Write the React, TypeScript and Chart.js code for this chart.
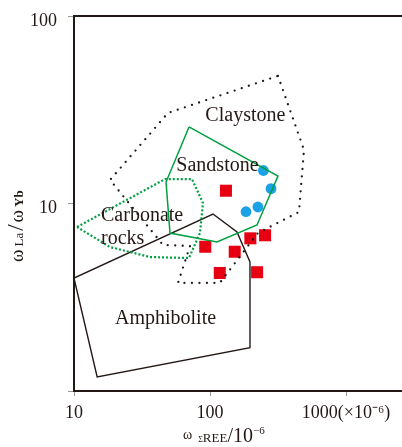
import { useEffect, useRef } from 'react';
import { Chart, registerables } from 'chart.js';

Chart.register(...registerables);

const FONT = "'Liberation Serif', 'Times New Roman', serif";
const INK = '#231815';

// axis ticks
const xTicks = [10, 100, 1000];
const yTicks = [1, 10, 100];
const xTickLabels = ['10', '100', '1000(×10⁻⁶)'];
const yTickLabels = ['', '10', '100'];

// field polygons (ΣREE, La/Yb)
const claystoneX = [316, 491, 451, 225, 118, 58.2, 71.3, 45.1, 18.4, 49.1];
const claystoneY = [47.9, 19.3, 9.01, 6.96, 3.77, 3.77, 5.93, 6.01, 13.35, 30.4];

const sandstoneX = [70.1, 316, 221.6, 112.6, 50.8, 47.5];
const sandstoneY = [25.6, 14.0, 7.68, 6.23, 6.96, 13.02];

const carbonateX = [10.52, 46.7, 73.7, 88.8, 84.4, 70.1, 36.2, 18.4];
const carbonateY = [7.49, 13.5, 13.5, 10.06, 6.96, 5.12, 5.18, 5.86];

const amphiboliteX = [10, 105.2, 157.9, 196.8, 196.8, 14.8];
const amphiboliteY = [4.0, 8.79, 7.05, 4.88, 1.7, 1.19];

// samples
const redX = [131, 92.3, 152, 198, 254, 118, 222];
const redY = [11.7, 5.88, 5.53, 6.52, 6.77, 4.26, 4.3];
const blueX = [247, 281, 225, 184];
const blueY = [15.0, 12.0, 9.58, 9.04];

// field labels
const labelTexts = ['Claystone', 'Sandstone', 'Carbonate', 'rocks', 'Amphibolite'];
const labelX = [182, 113.5, 15.8, 15.8, 47.1];
const labelY = [29.4, 15.85, 8.58, 6.47, 2.42];
const labelAlign = ['center', 'center', 'left', 'left', 'center'];

function closed(xs: number[], ys: number[]) {
  const pts = xs.map((x, i) => ({ x, y: ys[i] }));
  pts.push({ ...pts[0] });
  return pts;
}

function pts(xs: number[], ys: number[]) {
  return xs.map((x, i) => ({ x, y: ys[i] }));
}

type Run = { t: string; size: number; dy?: number; bold?: boolean; gap?: number };

function drawRuns(ctx: CanvasRenderingContext2D, runs: Run[], x0: number, y0: number) {
  let x = x0;
  for (const r of runs) {
    x += r.gap || 0;
    ctx.font = `${r.bold ? 'bold ' : ''}${r.size}px ${FONT}`;
    ctx.fillText(r.t, x, y0 + (r.dy || 0));
    x += ctx.measureText(r.t).width;
  }
}

const decorPlugin = {
  id: 'decor',
  afterDatasetsDraw(chart: any) {
    const { ctx, scales } = chart;
    ctx.save();
    ctx.fillStyle = INK;
    ctx.textBaseline = 'middle';
    ctx.font = `20px ${FONT}`;
    labelTexts.forEach((t, i) => {
      ctx.textAlign = labelAlign[i];
      ctx.fillText(t, scales.x.getPixelForValue(labelX[i]), scales.y.getPixelForValue(labelY[i]));
    });
    ctx.restore();
  },
  afterDraw(chart: any) {
    const { ctx, chartArea } = chart;
    ctx.save();
    ctx.strokeStyle = INK;
    ctx.lineWidth = 2;
    ctx.strokeRect(chartArea.left, chartArea.top, chartArea.right - chartArea.left, chartArea.bottom - chartArea.top);

    ctx.fillStyle = INK;
    ctx.textAlign = 'left';
    ctx.textBaseline = 'alphabetic';
    // x title
    drawRuns(
      ctx,
      [
        { t: 'ω', size: 14, dy: -3 },
        { t: 'Σ', size: 8, gap: 6 },
        { t: 'REE', size: 13 },
        { t: '/10', size: 20 },
        { t: '−6', size: 11, dy: -8 },
      ],
      chartArea.left + 109,
      chartArea.bottom + 51
    );
    // y title (rotated)
    ctx.translate(23, chartArea.top + 246);
    ctx.rotate(-Math.PI / 2);
    drawRuns(
      ctx,
      [
        { t: 'ω', size: 19 },
        { t: 'La', size: 13, gap: 3 },
        { t: '/', size: 23, gap: 2 },
        { t: 'ω', size: 19, gap: 2 },
        { t: 'Yb', size: 13, gap: 3, bold: true },
      ],
      0,
      0
    );
    ctx.restore();
  },
};

export default function App() {
  const ref = useRef<HTMLCanvasElement | null>(null);

  useEffect(() => {
    if (!ref.current) return;
    const polyBase = { showLine: true, pointRadius: 0, pointHoverRadius: 0, fill: false, tension: 0 };
    const chart = new Chart(ref.current, {
      type: 'scatter',
      data: {
        datasets: [
          {
            ...polyBase,
            label: 'Claystone',
            data: closed(claystoneX, claystoneY),
            borderColor: INK,
            borderWidth: 2.3,
            borderDash: [0, 7.5],
            borderCapStyle: 'round',
          },
          {
            ...polyBase,
            label: 'Carbonate rocks',
            data: closed(carbonateX, carbonateY),
            borderColor: '#00a040',
            borderWidth: 2.2,
            borderDash: [2, 2],
          },
          {
            ...polyBase,
            label: 'Sandstone',
            data: closed(sandstoneX, sandstoneY),
            borderColor: '#00a040',
            borderWidth: 1.5,
          },
          {
            ...polyBase,
            label: 'Amphibolite',
            data: closed(amphiboliteX, amphiboliteY),
            borderColor: INK,
            borderWidth: 1.4,
          },
          {
            label: 'red',
            data: pts(redX, redY),
            pointStyle: 'rect',
            pointRadius: 8.5,
            backgroundColor: '#e60012',
            borderWidth: 0,
          },
          {
            label: 'blue',
            data: pts(blueX, blueY),
            pointStyle: 'circle',
            pointRadius: 5.4,
            backgroundColor: '#1ba1e6',
            borderWidth: 0,
          },
        ],
      },
      options: {
        animation: false,
        responsive: false,
        devicePixelRatio: 1,
        layout: { padding: { left: 0, top: 16, right: 18, bottom: 0 } },
        plugins: { legend: { display: false }, tooltip: { enabled: false }, title: { display: false } },
        scales: {
          x: {
            type: 'logarithmic',
            min: 10,
            max: 10000,
            afterBuildTicks: (s: any) => {
              s.ticks = xTicks.map((v) => ({ value: v }));
            },
            afterFit: (s: any) => {
              s.height = 56;
              s.paddingLeft = 0;
              s.paddingRight = 0;
            },
            border: { display: false },
            grid: { drawOnChartArea: false, drawTicks: true, tickLength: 5, color: '#9a9a9a', lineWidth: 1 },
            ticks: {
              autoSkip: false,
              maxRotation: 0,
              padding: 6,
              color: INK,
              font: { family: FONT, size: 18 },
              callback: (v: any, i: number) => xTickLabels[i],
            },
          },
          y: {
            type: 'logarithmic',
            min: 1,
            max: 100,
            afterBuildTicks: (s: any) => {
              s.ticks = yTicks.map((v) => ({ value: v }));
            },
            afterFit: (s: any) => {
              s.width = 74;
              s.paddingTop = 0;
              s.paddingBottom = 0;
            },
            border: { display: false },
            grid: { drawOnChartArea: false, drawTicks: true, tickLength: 6, color: '#9a9a9a', lineWidth: 1 },
            ticks: {
              autoSkip: false,
              padding: 11,
              labelOffset: 5,
              color: INK,
              font: { family: FONT, size: 18 },
              callback: (v: any, i: number) => yTickLabels[i],
            },
          },
        },
      },
      plugins: [decorPlugin],
    } as any);
    return () => chart.destroy();
  }, []);

  return (
    <div
      style={{
        position: 'fixed',
        left: 0,
        top: 0,
        width: 402,
        height: 447,
        overflow: 'hidden',
        background: '#fff',
      }}
    >
      <canvas ref={ref} width={500} height={447} style={{ display: 'block', width: 500, height: 447 }} />
    </div>
  );
}
